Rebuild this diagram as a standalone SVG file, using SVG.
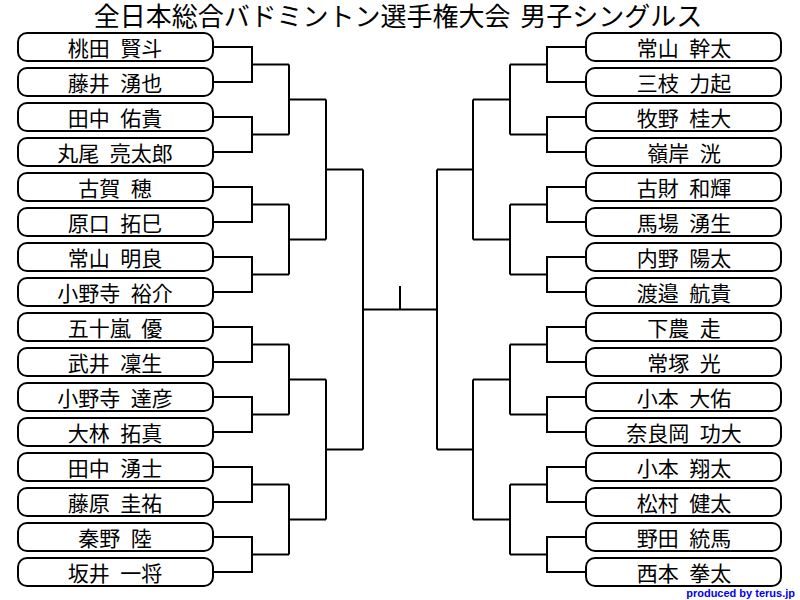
<svg xmlns="http://www.w3.org/2000/svg" width="800" height="600" viewBox="0 0 800 600">
<style>
.box rect{fill:#fff;stroke:#000;stroke-width:2}
.box text{font-family:"Noto Sans CJK JP","Noto Sans CJK SC",sans-serif;font-size:21px;word-spacing:6px;fill:#000;text-anchor:middle}
#connectors path{fill:none;stroke:#000;stroke-width:2}
.title{font-family:"Noto Sans CJK JP","Noto Sans CJK SC",sans-serif;font-size:26px;fill:#000;text-anchor:middle}
.credit{font-family:"Liberation Sans",Arial,sans-serif;font-weight:bold;font-size:11px;fill:#0000ee;text-anchor:end}
</style>
<rect width="800" height="600" fill="#fff"/>
<text class="title" x="398" y="26" word-spacing="4">全日本総合バドミントン選手権大会 男子シングルス</text>
<g id="connectors">
<path d="M213,47H252V82H213M252,64.5H289"/>
<path d="M213,117H252V152H213M252,134.5H289"/>
<path d="M213,187H252V222H213M252,204.5H289"/>
<path d="M213,257H252V292H213M252,274.5H289"/>
<path d="M213,327H252V362H213M252,344.5H289"/>
<path d="M213,397H252V432H213M252,414.5H289"/>
<path d="M213,467H252V502H213M252,484.5H289"/>
<path d="M213,537H252V572H213M252,554.5H289"/>
<path d="M289,64.5V134.5M289,99.5H326"/>
<path d="M289,204.5V274.5M289,239.5H326"/>
<path d="M289,344.5V414.5M289,379.5H326"/>
<path d="M289,484.5V554.5M289,519.5H326"/>
<path d="M326,99.5V239.5M326,169.5H363"/>
<path d="M326,379.5V519.5M326,449.5H363"/>
<path d="M363,169.5V449.5"/>
<path d="M586,47H547V82H586M547,64.5H510"/>
<path d="M586,117H547V152H586M547,134.5H510"/>
<path d="M586,187H547V222H586M547,204.5H510"/>
<path d="M586,257H547V292H586M547,274.5H510"/>
<path d="M586,327H547V362H586M547,344.5H510"/>
<path d="M586,397H547V432H586M547,414.5H510"/>
<path d="M586,467H547V502H586M547,484.5H510"/>
<path d="M586,537H547V572H586M547,554.5H510"/>
<path d="M510,64.5V134.5M510,99.5H473"/>
<path d="M510,204.5V274.5M510,239.5H473"/>
<path d="M510,344.5V414.5M510,379.5H473"/>
<path d="M510,484.5V554.5M510,519.5H473"/>
<path d="M473,99.5V239.5M473,169.5H437"/>
<path d="M473,379.5V519.5M473,449.5H437"/>
<path d="M437,169.5V449.5"/>
<path d="M363,309.5H437M400,286V309.5"/>
</g>
<g id="L1" class="box"><rect x="18" y="33" width="195" height="28" rx="9"/><text x="115" y="56">桃田 賢斗</text></g>
<g id="L2" class="box"><rect x="18" y="68" width="195" height="28" rx="9"/><text x="115" y="91">藤井 湧也</text></g>
<g id="L3" class="box"><rect x="18" y="103" width="195" height="28" rx="9"/><text x="115" y="126">田中 佑貴</text></g>
<g id="L4" class="box"><rect x="18" y="138" width="195" height="28" rx="9"/><text x="115" y="161">丸尾 亮太郎</text></g>
<g id="L5" class="box"><rect x="18" y="173" width="195" height="28" rx="9"/><text x="115" y="196">古賀 穂</text></g>
<g id="L6" class="box"><rect x="18" y="208" width="195" height="28" rx="9"/><text x="115" y="231">原口 拓巳</text></g>
<g id="L7" class="box"><rect x="18" y="243" width="195" height="28" rx="9"/><text x="115" y="266">常山 明良</text></g>
<g id="L8" class="box"><rect x="18" y="278" width="195" height="28" rx="9"/><text x="115" y="301">小野寺 裕介</text></g>
<g id="L9" class="box"><rect x="18" y="313" width="195" height="28" rx="9"/><text x="115" y="336">五十嵐 優</text></g>
<g id="L10" class="box"><rect x="18" y="348" width="195" height="28" rx="9"/><text x="115" y="371">武井 凜生</text></g>
<g id="L11" class="box"><rect x="18" y="383" width="195" height="28" rx="9"/><text x="115" y="406">小野寺 達彦</text></g>
<g id="L12" class="box"><rect x="18" y="418" width="195" height="28" rx="9"/><text x="115" y="441">大林 拓真</text></g>
<g id="L13" class="box"><rect x="18" y="453" width="195" height="28" rx="9"/><text x="115" y="476">田中 湧士</text></g>
<g id="L14" class="box"><rect x="18" y="488" width="195" height="28" rx="9"/><text x="115" y="511">藤原 圭祐</text></g>
<g id="L15" class="box"><rect x="18" y="523" width="195" height="28" rx="9"/><text x="115" y="546">秦野 陸</text></g>
<g id="L16" class="box"><rect x="18" y="558" width="195" height="28" rx="9"/><text x="115" y="581">坂井 一将</text></g>
<g id="R1" class="box"><rect x="586" y="33" width="195" height="28" rx="9"/><text x="684" y="56">常山 幹太</text></g>
<g id="R2" class="box"><rect x="586" y="68" width="195" height="28" rx="9"/><text x="684" y="91">三枝 力起</text></g>
<g id="R3" class="box"><rect x="586" y="103" width="195" height="28" rx="9"/><text x="684" y="126">牧野 桂大</text></g>
<g id="R4" class="box"><rect x="586" y="138" width="195" height="28" rx="9"/><text x="684" y="161">嶺岸 洸</text></g>
<g id="R5" class="box"><rect x="586" y="173" width="195" height="28" rx="9"/><text x="684" y="196">古財 和輝</text></g>
<g id="R6" class="box"><rect x="586" y="208" width="195" height="28" rx="9"/><text x="684" y="231">馬場 湧生</text></g>
<g id="R7" class="box"><rect x="586" y="243" width="195" height="28" rx="9"/><text x="684" y="266">内野 陽太</text></g>
<g id="R8" class="box"><rect x="586" y="278" width="195" height="28" rx="9"/><text x="684" y="301">渡邉 航貴</text></g>
<g id="R9" class="box"><rect x="586" y="313" width="195" height="28" rx="9"/><text x="684" y="336">下農 走</text></g>
<g id="R10" class="box"><rect x="586" y="348" width="195" height="28" rx="9"/><text x="684" y="371">常塚 光</text></g>
<g id="R11" class="box"><rect x="586" y="383" width="195" height="28" rx="9"/><text x="684" y="406">小本 大佑</text></g>
<g id="R12" class="box"><rect x="586" y="418" width="195" height="28" rx="9"/><text x="684" y="441">奈良岡 功大</text></g>
<g id="R13" class="box"><rect x="586" y="453" width="195" height="28" rx="9"/><text x="684" y="476">小本 翔太</text></g>
<g id="R14" class="box"><rect x="586" y="488" width="195" height="28" rx="9"/><text x="684" y="511">松村 健太</text></g>
<g id="R15" class="box"><rect x="586" y="523" width="195" height="28" rx="9"/><text x="684" y="546">野田 統馬</text></g>
<g id="R16" class="box"><rect x="586" y="558" width="195" height="28" rx="9"/><text x="684" y="581">西本 拳太</text></g>
<text class="credit" x="795" y="597">produced by terus.jp</text>
</svg>
